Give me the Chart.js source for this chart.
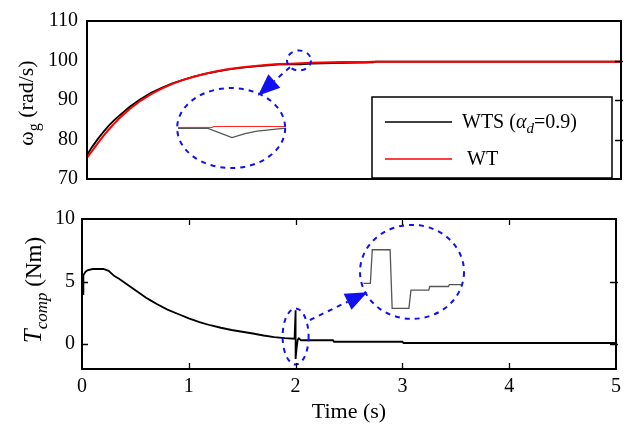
<!DOCTYPE html>
<html>
<head>
<meta charset="utf-8">
<script src="https://cdn.jsdelivr.net/npm/chart.js@4"></script>
<style>
  body { margin: 0; background: #fff; }
  #wrap { position: relative; width: 627px; height: 428px; }
  canvas { position: absolute; left: 0; }
  #fontprobe { position: absolute; left: -999px; top: 0; font-family: "Liberation Serif"; }
</style>
</head>
<body>
<div id="fontprobe">Time <i>Tcomp</i> ω α</div>
<div id="wrap">
  <canvas id="top-graph" width="627" height="200" style="top:0"></canvas>
  <canvas id="bot-graph" width="627" height="228" style="top:200px"></canvas>
</div>
<script>
// top plot: generator speed
var tTop = [0, 0.05, 0.1, 0.15, 0.2, 0.25, 0.3, 0.4, 0.5, 0.6, 0.7, 0.8, 0.9, 1.0, 1.1, 1.2, 1.3, 1.4, 1.5, 1.6, 1.7, 1.8, 1.9, 2.0, 2.1, 2.2, 2.4, 2.6, 2.68, 2.7, 3, 4, 5];
var wtsSpeed = [76.1, 78.2, 80.1, 81.8, 83.4, 84.8, 86.0, 88.3, 90.2, 91.8, 93.1, 94.2, 95.1, 95.9, 96.6, 97.1, 97.6, 98.0, 98.3, 98.6, 98.8, 99.0, 99.1, 99.0, 99.2, 99.3, 99.4, 99.45, 99.5, 99.7, 99.7, 99.7, 99.7];
var wtSpeed = [75.4, 77.2, 79.0, 80.8, 82.4, 83.9, 85.3, 87.7, 89.8, 91.5, 92.9, 94.1, 95.1, 95.9, 96.6, 97.2, 97.7, 98.1, 98.4, 98.7, 98.9, 99.1, 99.2, 99.3, 99.4, 99.5, 99.6, 99.65, 99.7, 99.7, 99.7, 99.7, 99.7];

// zoomed detail drawn inside the top ellipse
var insetWtsT = [0.852, 1.133, 1.358, 1.479, 1.592, 1.863];
var insetWtsV = [82.83, 82.83, 80.49, 81.5, 82.13, 82.9];
var insetWtT = [0.852, 1.18, 1.18, 1.863];
var insetWtV = [83.06, 83.06, 83.3, 83.3];

// bottom plot: compensation torque
var tBot = [0.01, 0.013, 0.02, 0.03, 0.05, 0.1, 0.15, 0.2, 0.25, 0.3, 0.35, 0.4, 0.45, 0.5, 0.55, 0.6, 0.65, 0.7, 0.8, 0.9, 1.0, 1.1, 1.2, 1.3, 1.4, 1.5, 1.6, 1.7, 1.8, 1.9, 1.99, 2.0, 2.0, 2.01, 2.02, 2.03, 2.05, 2.35, 2.36, 3.0, 3.01, 5];
var tComp = [4.0, 5.5, 5.6, 5.75, 5.9, 6.0, 6.0, 6.0, 5.85, 5.45, 5.2, 4.9, 4.6, 4.3, 4.0, 3.7, 3.45, 3.2, 2.75, 2.4, 2.05, 1.75, 1.5, 1.3, 1.12, 0.98, 0.84, 0.68, 0.55, 0.47, 0.42, 2.7, -1.2, -0.3, 0.35, 0.45, 0.3, 0.3, 0.18, 0.18, 0.08, 0.08];

// zoomed detail drawn inside the bottom ellipse
var insetTcT = [2.635, 2.70, 2.718, 2.885, 2.904, 3.061, 3.08, 3.247, 3.256, 3.43, 3.44, 3.553];
var insetTcV = [4.85, 4.85, 7.54, 7.54, 2.85, 2.85, 4.31, 4.31, 4.6, 4.6, 4.75, 4.75];

var botYTicks = [0, 5, 10];

var SERIF = '"Liberation Serif", "DejaVu Serif", "Times New Roman", serif';
var BLUE = '#1010f0';

function pts(xs, ys) {
    return xs.map((x, i) => ({ x: x, y: ys[i] }));
}

// text with sub parts, optionally rotated
function drawRich(ctx, parts, x, y, angle, align) {
    ctx.save();
    ctx.translate(x, y);
    ctx.rotate(angle || 0);
    ctx.fillStyle = '#000';
    ctx.textBaseline = 'alphabetic';
    ctx.textAlign = 'left';
    var w = 0;
    parts.forEach(p => { ctx.font = p.font; w += ctx.measureText(p.text).width; });
    var cx = align === 'left' ? 0 : -w / 2;
    parts.forEach(p => {
        ctx.font = p.font;
        ctx.fillText(p.text, cx, p.dy || 0);
        cx += ctx.measureText(p.text).width;
    });
    ctx.restore();
}

var framePlugin = {
    id: 'frame',
    afterDraw(chart, args, opts) {
        var ctx = chart.ctx, a = chart.chartArea;
        var x = chart.scales.x, y = chart.scales.y;
        ctx.save();
        ctx.strokeStyle = '#000';
        ctx.lineWidth = 1.3;
        ctx.beginPath();
        (opts.xTicks || []).forEach(v => {
            var px = Math.round(x.getPixelForValue(v)) + 0.5;
            ctx.moveTo(px, a.top); ctx.lineTo(px, a.top + 6);
            ctx.moveTo(px, a.bottom); ctx.lineTo(px, a.bottom - 6);
        });
        (opts.yLeft || []).forEach(v => {
            var py = Math.round(y.getPixelForValue(v)) + 0.5;
            ctx.moveTo(a.left, py); ctx.lineTo(a.left + 6, py);
        });
        (opts.yRight || []).forEach(v => {
            var py = Math.round(y.getPixelForValue(v)) + 0.5;
            ctx.moveTo(a.right + 2, py); ctx.lineTo(a.right - 6, py);
        });
        ctx.stroke();
        ctx.lineWidth = 2;
        ctx.strokeRect(a.left, a.top, a.right - a.left, a.bottom - a.top);
        ctx.restore();
    }
};

// dashed ellipses and arrows, anchored in data units
var zoomPlugin = {
    id: 'zoomMarks',
    afterDatasetsDraw(chart, args, opts) {
        var ctx = chart.ctx, x = chart.scales.x, y = chart.scales.y;
        ctx.save();
        ctx.strokeStyle = BLUE;
        ctx.fillStyle = BLUE;
        ctx.lineWidth = 2;
        ctx.setLineDash([5, 5]);
        (opts.ellipses || []).forEach(e => {
            ctx.beginPath();
            ctx.ellipse(x.getPixelForValue(e.x), y.getPixelForValue(e.y), e.rx, e.ry, 0, 0, Math.PI * 2);
            ctx.stroke();
        });
        (opts.arrows || []).forEach(ar => {
            var x0 = x.getPixelForValue(ar.from[0]), y0 = y.getPixelForValue(ar.from[1]);
            var x1 = x.getPixelForValue(ar.to[0]), y1 = y.getPixelForValue(ar.to[1]);
            var ang = Math.atan2(y1 - y0, x1 - x0);
            var len = 22, half = 9;
            var bx = x1 - len * Math.cos(ang), by = y1 - len * Math.sin(ang);
            ctx.setLineDash([5, 5]);
            ctx.beginPath();
            ctx.moveTo(x0, y0);
            ctx.lineTo(bx, by);
            ctx.stroke();
            ctx.setLineDash([]);
            ctx.beginPath();
            ctx.moveTo(x1, y1);
            ctx.lineTo(bx + half * Math.sin(ang), by - half * Math.cos(ang));
            ctx.lineTo(bx - half * Math.sin(ang), by + half * Math.cos(ang));
            ctx.closePath();
            ctx.fill();
        });
        ctx.restore();
    }
};

var labelPlugin = {
    id: 'labels',
    afterDraw(chart, args, opts) {
        var ctx = chart.ctx;
        if (opts.yTitle) {
            drawRich(ctx, opts.yTitle.parts, opts.yTitle.x, opts.yTitle.y, -Math.PI / 2);
        }
        if (opts.legend) {
            var L = opts.legend;
            ctx.save();
            ctx.fillStyle = '#fff';
            ctx.fillRect(L.x, L.y, L.w, L.h);
            ctx.strokeStyle = '#000';
            ctx.lineWidth = 1.5;
            ctx.strokeRect(L.x, L.y, L.w, L.h);
            L.items.forEach(it => {
                ctx.strokeStyle = it.color;
                ctx.lineWidth = 1.5;
                ctx.beginPath();
                ctx.moveTo(L.x + 13, it.y);
                ctx.lineTo(L.x + 80, it.y);
                ctx.stroke();
                drawRich(ctx, it.parts, L.x + it.tx, it.y + 6, 0, 'left');
            });
            ctx.restore();
        }
    }
};

function baseScales(yMin, yMax, yStep, yWidth, xHeight, showX) {
    return {
        x: {
            type: 'linear', min: 0, max: 5,
            ticks: { display: showX, stepSize: 1, color: '#000', font: { family: SERIF, size: 20 }, padding: 6, maxRotation: 0 },
            grid: { display: false, drawTicks: false },
            border: { display: false },
            afterFit: function(s) { s.height = xHeight; }
        },
        y: {
            min: yMin, max: yMax,
            ticks: { stepSize: yStep, color: '#000', font: { family: SERIF, size: 20 }, padding: 9 },
            grid: { display: false, drawTicks: false },
            border: { display: false },
            afterFit: function(s) { s.width = yWidth; }
        }
    };
}

var lineStyle = { showLine: true, pointRadius: 0, tension: 0, fill: false };

function drawCharts() {
    Chart.defaults.font.family = SERIF;

    new Chart(document.getElementById('top-graph').getContext('2d'), {
        type: 'scatter',
        data: {
            datasets: [
                Object.assign({ label: 'WT', data: pts(tTop, wtSpeed), borderColor: '#ff0000', borderWidth: 2 }, lineStyle),
                Object.assign({ label: 'WTS', data: pts(tTop, wtsSpeed), borderColor: '#000', borderWidth: 1.8 }, lineStyle),
                Object.assign({ label: 'WT zoom', data: pts(insetWtT, insetWtV), borderColor: '#ff2020', borderWidth: 1 }, lineStyle),
                Object.assign({ label: 'WTS zoom', data: pts(insetWtsT, insetWtsV), borderColor: '#555', borderWidth: 1.3 }, lineStyle)
            ]
        },
        options: {
            responsive: false,
            animation: false,
            layout: { padding: { top: 18, right: 6, left: 0, bottom: 0 } },
            scales: baseScales(70, 110, 10, 87, 11, false),
            plugins: {
                legend: { display: false },
                tooltip: { enabled: false },
                frame: { yRight: [80, 90, 100] },
                zoomMarks: {
                    ellipses: [{ x: 1.985, y: 100.0, rx: 12, ry: 10 }, { x: 1.35, y: 82.9, rx: 54, ry: 40 }],
                    arrows: [{ from: [1.90, 98.3], to: [1.60, 91.1] }]
                },
                labels: {
                    yTitle: {
                        x: 33, y: 103,
                        parts: [
                            { text: 'ω', font: '22px ' + SERIF },
                            { text: 'g', font: '16px ' + SERIF, dy: 6 },
                            { text: ' (rad/s)', font: '22px ' + SERIF }
                        ]
                    },
                    legend: {
                        x: 372, y: 97, w: 240, h: 81,
                        items: [
                            { color: '#000', y: 122, tx: 90, parts: [
                                { text: 'WTS (', font: '20px ' + SERIF },
                                { text: 'α', font: 'italic 20px ' + SERIF },
                                { text: 'd', font: 'italic 15px ' + SERIF, dy: 5 },
                                { text: '=0.9)', font: '20px ' + SERIF }
                            ] },
                            { color: '#ff0000', y: 159, tx: 95, parts: [
                                { text: 'WT', font: '20px ' + SERIF }
                            ] }
                        ]
                    }
                }
            }
        },
        plugins: [zoomPlugin, framePlugin, labelPlugin]
    });

    var botScales = baseScales(-2, 10, 5, 82, 59, true);
    botScales.y.ticks.padding = 7;
    botScales.y.afterBuildTicks = function(sc) { sc.ticks = botYTicks.map(v => ({ value: v })); };
    botScales.x.title = { display: true, text: 'Time (s)', color: '#000', font: { family: SERIF, size: 22 }, padding: { top: 0, bottom: 3 } };

    new Chart(document.getElementById('bot-graph').getContext('2d'), {
        type: 'scatter',
        data: {
            datasets: [
                Object.assign({ label: 'Tcomp', data: pts(tBot, tComp), borderColor: '#000', borderWidth: 1.8 }, lineStyle),
                Object.assign({ label: 'Tcomp zoom', data: pts(insetTcT, insetTcV), borderColor: '#555', borderWidth: 1.3 }, lineStyle)
            ]
        },
        options: {
            responsive: false,
            animation: false,
            layout: { padding: { top: 15, right: 6, left: 0, bottom: 0 } },
            scales: botScales,
            plugins: {
                legend: { display: false },
                tooltip: { enabled: false },
                frame: { xTicks: [1, 2, 3, 4], yLeft: [0, 5], yRight: [0, 5] },
                zoomMarks: {
                    ellipses: [{ x: 2.0, y: 0.6, rx: 13, ry: 28 }, { x: 3.09, y: 5.77, rx: 52, ry: 47 }],
                    arrows: [{ from: [2.134, 1.92], to: [2.672, 4.15] }]
                },
                labels: {
                    yTitle: {
                        x: 41, y: 90,
                        parts: [
                            { text: 'T', font: 'italic 25px ' + SERIF },
                            { text: 'comp', font: 'italic 17px ' + SERIF, dy: 6 },
                            { text: ' (Nm)', font: '23px ' + SERIF }
                        ]
                    }
                }
            }
        },
        plugins: [zoomPlugin, framePlugin, labelPlugin]
    });
}

Promise.all([
    document.fonts.load('20px "Liberation Serif"'),
    document.fonts.load('italic 20px "Liberation Serif"')
]).catch(function() {}).then(drawCharts);
</script>
</body>
</html>
